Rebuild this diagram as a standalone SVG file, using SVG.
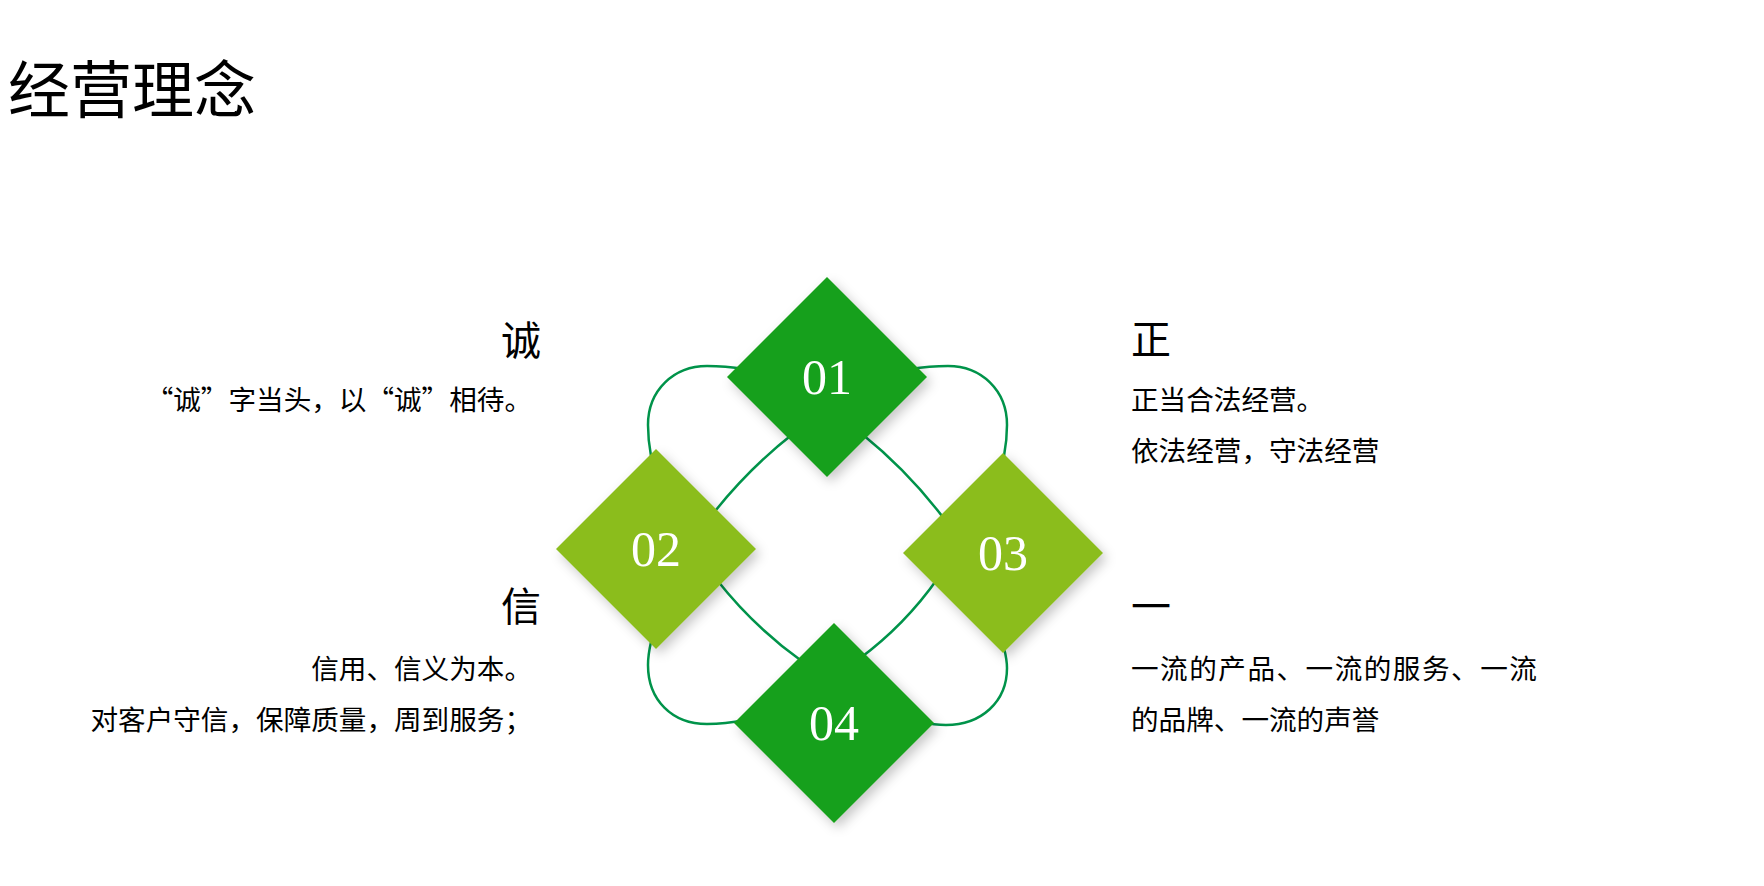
<svg xmlns="http://www.w3.org/2000/svg" width="1764" height="886" viewBox="0 0 1764 886">
<defs>
<filter id="sh" x="-30%" y="-30%" width="160%" height="160%">
<feDropShadow dx="4" dy="5" stdDeviation="6" flood-color="#000" flood-opacity="0.22"/>
</filter>
<style>
.cjk{font-family:"Noto Sans CJK SC","Noto Sans",sans-serif;fill:#000}
.title{font-size:62px}
.head{font-size:40px}
.sub{font-size:27.6px}
.num{font-family:"Liberation Serif","DejaVu Serif",serif;font-size:50px;fill:#fff;text-anchor:middle}
.dk{fill:#18a01a}
.lt{fill:#8bbd1e}
.ln{fill:none;stroke:#00934a;stroke-width:2.5}
</style>
</defs>
<rect width="1764" height="886" fill="#fff"/>
<text class="cjk title" x="8" y="113">经营理念</text>

<g id="connectors">
<path class="ln" d="M 745 369 Q 725 366 707 366 C 674 366 648 390 648 425 Q 648 440 651 456"/>
<path class="ln" d="M 910 369 Q 930 366 948 366 C 981 366 1007 390 1007 425 Q 1007 440 1004 456"/>
<path class="ln" d="M 651 642 Q 648 655 648 665 C 648 700 672 724 707 724 Q 725 724 745 720"/>
<path class="ln" d="M 1004 648 Q 1007 660 1007 668 C 1007 702 981 725 946 725 Q 935 725 920 722"/>
<path class="ln" d="M 794 433 Q 748 469 712 515"/>
<path class="ln" d="M 862 434 Q 909 472 945 520"/>
<path class="ln" d="M 717 580 Q 754 627 803 662"/>
<path class="ln" d="M 859 659 Q 905 625 938 578"/>
</g>

<g id="node-01">
<polygon class="dk" filter="url(#sh)" points="827,277 927,377 827,477 727,377"/>
<text class="num" x="827" y="394">01</text>
</g>
<g id="node-02">
<polygon class="lt" filter="url(#sh)" points="656,449 756,549 656,649 556,549"/>
<text class="num" x="656" y="566">02</text>
</g>
<g id="node-03">
<polygon class="lt" filter="url(#sh)" points="1003,453 1103,553 1003,653 903,553"/>
<text class="num" x="1003" y="570">03</text>
</g>
<g id="node-04">
<polygon class="dk" filter="url(#sh)" points="834,623 934,723 834,823 734,723"/>
<text class="num" x="834" y="740">04</text>
</g>

<g id="text-cheng" text-anchor="end">
<text class="cjk head" x="541" y="355">诚</text>
<text class="cjk sub" x="532" y="410">“诚”字当头，以“诚”相待。</text>
</g>
<g id="text-xin" text-anchor="end">
<text class="cjk head" x="541" y="621">信</text>
<text class="cjk sub" x="532" y="679">信用、信义为本。</text>
<text class="cjk sub" x="532" y="730">对客户守信，保障质量，周到服务；</text>
</g>
<g id="text-zheng">
<text class="cjk head" x="1131" y="354">正</text>
<text class="cjk sub" x="1131" y="410">正当合法经营。</text>
<text class="cjk sub" x="1131" y="461">依法经营，守法经营</text>
</g>
<g id="text-yi">
<text class="cjk head" x="1131" y="621">一</text>
<text class="cjk sub" x="1131" y="679" letter-spacing="1.5">一流的产品、一流的服务、一流</text>
<text class="cjk sub" x="1131" y="730">的品牌、一流的声誉</text>
</g>
</svg>
